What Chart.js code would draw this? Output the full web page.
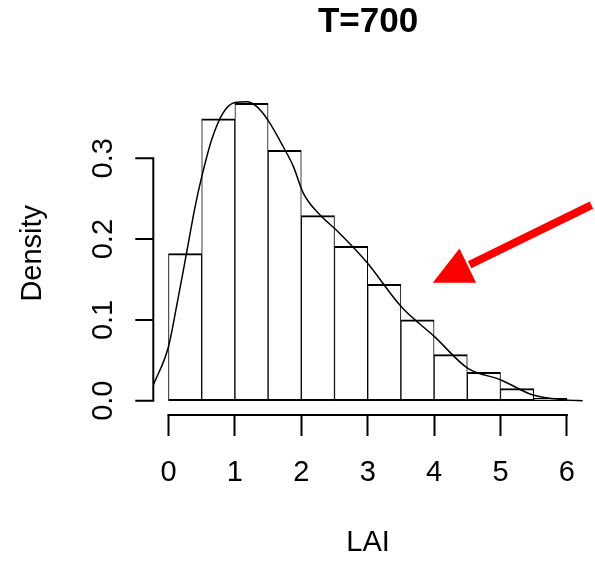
<!DOCTYPE html>
<html lang="en">
  <head>
    <meta charset="utf-8" />
    <title>T=700</title>
    <style>
      * {
        margin: 0;
        padding: 0;
      }
      body {
        background: white;
      }
      #myChart {
        display: block;
      }
    </style>
  </head>
  <body>
    <canvas id="myChart" width="595" height="565"></canvas>

    <script src="https://cdn.jsdelivr.net/npm/chart.js@4/dist/chart.umd.min.js"></script>

    <script>
      // data block
      const binCenters = [0.25, 0.75, 1.25, 1.75, 2.25, 2.75, 3.25, 3.75, 4.25, 4.75, 5.25, 5.75];
      const binDensity = [0.182, 0.349, 0.368, 0.31, 0.229, 0.191, 0.144, 0.1, 0.057, 0.035, 0.015, 0.003];

      const curveX = [-0.23, 0.0, 0.12, 0.27, 0.4, 0.5, 0.65, 0.82, 1.0, 1.18, 1.33, 1.5, 1.73, 1.88, 2.03, 2.28, 2.53, 2.98, 3.51, 4.01, 4.51, 5.0, 5.49, 5.99, 6.24];
      const curveY = [0.019, 0.067, 0.116, 0.182, 0.24, 0.277, 0.323, 0.356, 0.369, 0.37, 0.364, 0.347, 0.314, 0.29, 0.257, 0.23, 0.211, 0.172, 0.116, 0.079, 0.04, 0.026, 0.007, 0.001, 0.0];

      const xTicks = [0, 1, 2, 3, 4, 5, 6];
      const yTicks = [0, 0.1, 0.2, 0.3];

      // arrow annotation, in data units (tail -> tip)
      const arrowTail = [6.37, 0.242];
      const arrowTip = [3.98, 0.146];

      const narrow = "'Liberation Sans Narrow', 'Liberation Sans', Arial, sans-serif";
      const regular = "'Liberation Sans', Arial, sans-serif";

      const data = {
        datasets: [
          {
            type: "line",
            data: curveX.map((x, i) => ({ x: x, y: curveY[i] })),
            borderColor: "#000",
            borderWidth: 1.5,
            pointRadius: 0,
            fill: false,
            cubicInterpolationMode: "monotone",
            order: 0,
          },
          {
            type: "bar",
            data: binCenters.map((x, i) => ({ x: x, y: binDensity[i] })),
            backgroundColor: "#fff",
            borderColor: "#000",
            borderWidth: { left: 1, right: 1, top: 2, bottom: 2 },
            borderSkipped: false,
            barPercentage: 1,
            categoryPercentage: 1,
            order: 1,
          },
        ],
      };

      // R style axes: lines only between first and last tick
      const rAxes = {
        id: "rAxes",
        beforeDraw(chart) {
          const { ctx } = chart;
          ctx.save();
          ctx.fillStyle = "#fff";
          ctx.fillRect(0, 0, chart.width, chart.height);
          ctx.restore();
        },
        afterDraw(chart) {
          const {
            ctx,
            chartArea: { left, bottom },
            scales: { x, y },
          } = chart;
          ctx.save();
          ctx.strokeStyle = "#000";
          ctx.lineWidth = 2;

          // x axis line (tick marks come from the scale grid)
          ctx.beginPath();
          ctx.moveTo(x.getPixelForValue(xTicks[0]) - 1, bottom);
          ctx.lineTo(x.getPixelForValue(xTicks[xTicks.length - 1]) + 1, bottom);
          // y axis
          ctx.moveTo(left, y.getPixelForValue(yTicks[0]) + 1);
          ctx.lineTo(left, y.getPixelForValue(yTicks[yTicks.length - 1]) - 1);
          yTicks.forEach((v) => {
            const py = y.getPixelForValue(v);
            ctx.moveTo(left, py);
            ctx.lineTo(left - 18, py);
          });
          ctx.stroke();

          // y tick labels, rotated like R
          ctx.fillStyle = "#000";
          ctx.font = "29px " + narrow;
          ctx.textAlign = "center";
          ctx.textBaseline = "middle";
          yTicks.forEach((v) => {
            ctx.save();
            ctx.translate(103.5, y.getPixelForValue(v));
            ctx.rotate(-Math.PI / 2);
            ctx.fillText(v.toFixed(1), 0, 0);
            ctx.restore();
          });

          // red arrow
          const tx = x.getPixelForValue(arrowTip[0]);
          const ty = y.getPixelForValue(arrowTip[1]);
          const sx = x.getPixelForValue(arrowTail[0]);
          const sy = y.getPixelForValue(arrowTail[1]);
          const len = Math.hypot(sx - tx, sy - ty);
          const ux = (sx - tx) / len;
          const uy = (sy - ty) / len;
          const headLen = 39;
          const headHalf = 19;
          const bx = tx + ux * headLen;
          const by = ty + uy * headLen;
          ctx.strokeStyle = "#ff0000";
          ctx.fillStyle = "#ff0000";
          ctx.lineWidth = 8;
          ctx.beginPath();
          ctx.moveTo(sx, sy);
          ctx.lineTo(bx + ux * 2, by + uy * 2);
          ctx.stroke();
          ctx.beginPath();
          ctx.moveTo(tx, ty);
          ctx.lineTo(bx - uy * headHalf, by + ux * headHalf);
          ctx.lineTo(bx + uy * headHalf, by - ux * headHalf);
          ctx.closePath();
          ctx.fill();
          ctx.restore();
        },
      };

      // config block
      const config = {
        type: "bar",
        data: data,
        options: {
          responsive: false,
          animation: false,
          layout: {
            padding: { left: 0, right: 11.7, top: 0, bottom: 0 },
          },
          scales: {
            x: {
              type: "linear",
              min: -0.229,
              max: 6.24,
              offset: false,
              grid: {
                display: true,
                offset: false,
                drawOnChartArea: false,
                drawTicks: true,
                tickLength: 21,
                tickWidth: 2,
                tickColor: "#000",
              },
              border: { display: false },
              afterBuildTicks: (scale) => {
                scale.ticks = xTicks.map((v) => ({ value: v }));
              },
              afterFit: (scale) => {
                scale.height = 150;
              },
              ticks: {
                color: "#000",
                font: { family: narrow, size: 29 },
                padding: 19.6,
                maxRotation: 0,
                autoSkip: false,
              },
              title: {
                display: true,
                text: "LAI",
                color: "#000",
                font: { family: narrow, size: 29 },
                padding: { top: 0, bottom: 5 },
              },
            },
            y: {
              type: "linear",
              min: -0.0177,
              max: 0.3827,
              grid: { display: false },
              border: { display: false },
              ticks: { display: false },
              afterFit: (scale) => {
                scale.width = 153.3;
              },
              title: {
                display: true,
                text: "Density",
                color: "#000",
                font: { family: regular, size: 29 },
                padding: { top: 15.6, bottom: 0 },
              },
            },
          },
          plugins: {
            legend: { display: false },
            tooltip: { enabled: false },
            title: {
              display: true,
              text: "T=700",
              color: "#000",
              fullSize: false,
              font: { family: regular, size: 35, weight: "bold" },
              padding: { top: 1.5, bottom: 48 },
            },
          },
        },
        plugins: [rAxes],
      };

      // init render block
      const myChart = new Chart(document.getElementById("myChart"), config);
    </script>
  </body>
</html>
